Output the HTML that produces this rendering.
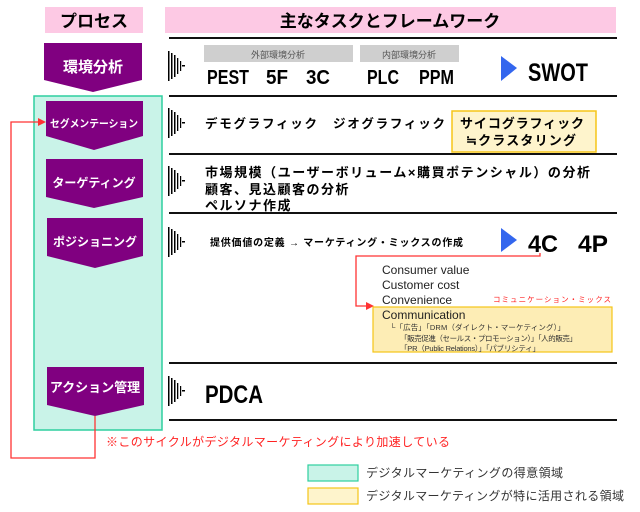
<!DOCTYPE html>
<html><head><meta charset="utf-8"><style>
html,body{margin:0;padding:0;background:#fff;}
svg{display:block;}
text{font-family:"Liberation Sans","Noto Sans CJK JP",sans-serif;}
.b{font-weight:bold;}
</style></head><body>
<svg width="640" height="512" viewBox="0 0 640 512" xmlns="http://www.w3.org/2000/svg">
<defs>
<g id="gl">
<rect x="0" y="0" width="1.5" height="30" fill="#000"/>
<rect x="3" y="2" width="1.5" height="26" fill="#000"/>
<rect x="6" y="4" width="1.5" height="22" fill="#000"/>
<rect x="9" y="7" width="1.3" height="16" fill="#000"/>
<rect x="12" y="10" width="1.2" height="10" fill="#000"/>
<rect x="14" y="14" width="3" height="1.5" fill="#000"/>
</g>
</defs>
<rect x="45" y="7" width="98" height="26" fill="#fdc9e4"/>
<text x="94" y="27" font-size="17" class="b" text-anchor="middle">プロセス</text>
<rect x="165" y="7" width="451" height="26" fill="#fdc9e4"/>
<text x="390" y="27" font-size="17" class="b" text-anchor="middle">主なタスクとフレームワーク</text>
<rect x="34" y="96" width="128" height="334" fill="#c9f3e8" stroke="#2ecf9f" stroke-width="1.5"/>
<g fill="#111">
<rect x="169" y="37" width="448" height="2"/>
<rect x="169" y="95" width="448" height="2"/>
<rect x="169" y="153" width="448" height="2"/>
<rect x="169" y="212" width="448" height="2"/>
<rect x="169" y="362" width="448" height="2"/>
<rect x="169" y="419" width="448" height="2"/>
</g>
<g fill="#800080">
<polygon points="44,43 142,43 142,80 93,92 44,80"/>
<polygon points="46,101 143,101 143,136 94,150 46,136"/>
<polygon points="46,159 143,159 143,197 94,208 46,197"/>
<polygon points="47,218 143,218 143,256 95,268 47,256"/>
<polygon points="47,367 144,367 144,405 95,416 47,405"/>
</g>
<g fill="#fff" class="b" text-anchor="middle">
<text x="93" y="72" font-size="15" class="b">環境分析</text>
<text x="94" y="127" font-size="10.5" class="b" textLength="88" lengthAdjust="spacingAndGlyphs">セグメンテーション</text>
<text x="94" y="187" font-size="12" class="b">ターゲティング</text>
<text x="95" y="246" font-size="12" class="b">ポジショニング</text>
<text x="95" y="392" font-size="13" class="b">アクション管理</text>
</g>
<use href="#gl" x="168" y="51"/>
<use href="#gl" x="168" y="108"/>
<use href="#gl" x="168" y="166"/>
<use href="#gl" x="168" y="227"/>
<use href="#gl" x="168" y="376"/>
<rect x="204" y="45" width="149" height="17" fill="#cfcfcf"/>
<text x="278" y="58" font-size="9" fill="#555" text-anchor="middle">外部環境分析</text>
<rect x="360" y="45" width="99" height="17" fill="#cfcfcf"/>
<text x="409" y="58" font-size="9" fill="#555" text-anchor="middle">内部環境分析</text>
<text x="207" y="84" font-size="20" class="b" textLength="42" lengthAdjust="spacingAndGlyphs">PEST</text>
<text x="266" y="84" font-size="20" class="b" textLength="22" lengthAdjust="spacingAndGlyphs">5F</text>
<text x="306" y="84" font-size="20" class="b" textLength="24" lengthAdjust="spacingAndGlyphs">3C</text>
<text x="367" y="84" font-size="20" class="b" textLength="32" lengthAdjust="spacingAndGlyphs">PLC</text>
<text x="419" y="84" font-size="20" class="b" textLength="35" lengthAdjust="spacingAndGlyphs">PPM</text>
<polygon points="501,56 517,68 501,81" fill="#3366ee"/>
<text x="528" y="81" font-size="25" class="b" textLength="60" lengthAdjust="spacingAndGlyphs">SWOT</text>
<text x="205" y="128" font-size="12.5" class="b" textLength="112" lengthAdjust="spacing">デモグラフィック</text>
<text x="333" y="128" font-size="12.5" class="b" textLength="112" lengthAdjust="spacing">ジオグラフィック</text>
<rect x="452" y="111" width="144" height="41" fill="#fef4cc" stroke="#f5c518" stroke-width="1.5"/>
<text x="460" y="128" font-size="13" class="b" textLength="124" lengthAdjust="spacing">サイコグラフィック</text>
<text x="466" y="145" font-size="13" class="b" textLength="110" lengthAdjust="spacing">≒クラスタリング</text>
<text x="205" y="177" font-size="13" class="b" textLength="385" lengthAdjust="spacing">市場規模（ユーザーボリューム×購買ポテンシャル）の分析</text>
<text x="205" y="194" font-size="13" class="b" letter-spacing="1.5">顧客、見込顧客の分析</text>
<text x="205" y="210" font-size="13" class="b" letter-spacing="1.5">ペルソナ作成</text>
<text x="210" y="246" font-size="10" class="b" textLength="253" lengthAdjust="spacing">提供価値の定義 → マーケティング・ミックスの作成</text>
<polygon points="501,228 517,240 501,252" fill="#3366ee"/>
<text x="528" y="252" font-size="24" class="b" textLength="30" lengthAdjust="spacingAndGlyphs">4C</text>
<text x="578" y="252" font-size="24" class="b" textLength="30" lengthAdjust="spacingAndGlyphs">4P</text>
<polyline points="540,253 540,256 356,256 356,306 368,306" fill="none" stroke="#ff3333" stroke-width="1.3"/>
<polygon points="374,306 366,302 366,310" fill="#ff3333"/>
<rect x="373" y="307" width="239" height="45" fill="#fdedb5" stroke="#f5c518" stroke-width="1.2"/>
<g font-size="12" fill="#222">
<text x="382" y="274">Consumer value</text>
<text x="382" y="289">Customer cost</text>
<text x="382" y="304">Convenience</text>
<text x="382" y="319">Communication</text>
</g>
<text x="493" y="302" font-size="7.5" fill="#ff2222" textLength="118" lengthAdjust="spacing">コミュニケーション・ミックス</text>
<g font-size="7.5" fill="#333">
<text x="390" y="330" textLength="175" lengthAdjust="spacing">└「広告」「DRM（ダイレクト・マーケティング）」</text>
<text x="400" y="341" textLength="177" lengthAdjust="spacing">「販売促進（セールス・プロモーション）」「人的販売」</text>
<text x="400" y="351" textLength="140" lengthAdjust="spacing">「PR（Public Relations）」「パブリシティ」</text>
</g>
<text x="205" y="403" font-size="25" class="b" textLength="58" lengthAdjust="spacingAndGlyphs">PDCA</text>
<polyline points="95,416 95,458 11,458 11,122 40,122" fill="none" stroke="#ff3333" stroke-width="1.3"/>
<polygon points="46,122 38,118 38,126" fill="#ff3333"/>
<text x="106" y="446" font-size="12" fill="#ff2222" textLength="344" lengthAdjust="spacing">※このサイクルがデジタルマーケティングにより加速している</text>
<rect x="308" y="465" width="50" height="16" fill="#c9f3e8" stroke="#2ecf9f" stroke-width="1.2"/>
<text x="366" y="477" font-size="12" fill="#333" textLength="197" lengthAdjust="spacing">デジタルマーケティングの得意領域</text>
<rect x="308" y="488" width="50" height="16" fill="#fef4cc" stroke="#f5c518" stroke-width="1.2"/>
<text x="366" y="500" font-size="12" fill="#333" textLength="258" lengthAdjust="spacing">デジタルマーケティングが特に活用される領域</text>
</svg>
</body></html>
